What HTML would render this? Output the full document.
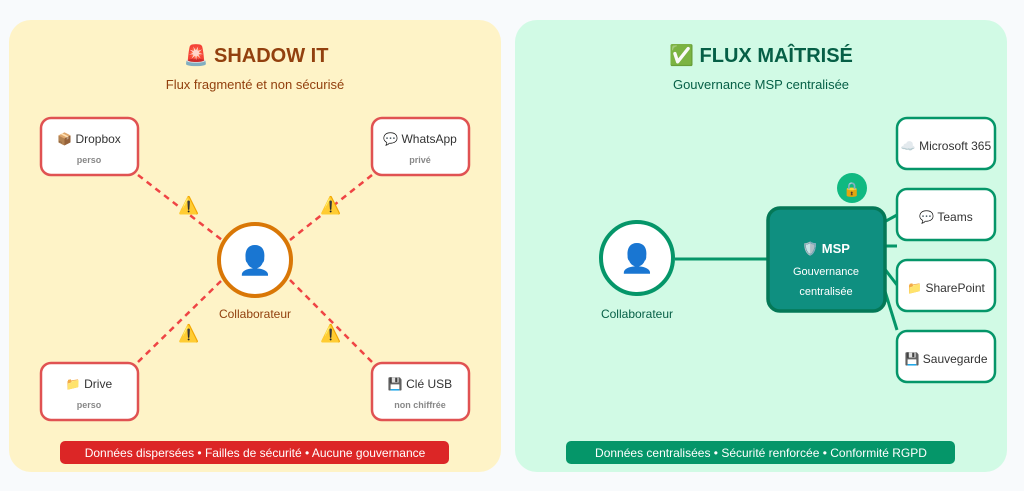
<!DOCTYPE html>
<html><head><meta charset="utf-8"><style>
html,body{margin:0;padding:0;background:#f8fafc;width:1024px;height:491px;overflow:hidden;font-family:"Liberation Sans","DejaVu Sans",sans-serif}
</style></head><body>
<svg width="1024" height="491" xmlns="http://www.w3.org/2000/svg" font-family="Liberation Sans, DejaVu Sans, sans-serif">
<rect x="0" y="0" width="1024" height="491" fill="#f8fafc"/>
<rect x="9" y="20" width="492" height="452" rx="22" fill="#fef3c7"/>
<rect x="515" y="20" width="492" height="452" rx="22" fill="#d1fae5"/>

<!-- LEFT -->
<text x="256" y="62" text-anchor="middle" font-size="20" font-weight="bold" fill="#92400e">🚨 SHADOW IT</text>
<text x="255" y="89" text-anchor="middle" font-size="13" fill="#92400e">Flux fragmenté et non sécurisé</text>
<g stroke="#ef4444" stroke-width="2.5" stroke-dasharray="6,5" fill="none">
<line x1="138" y1="175" x2="222" y2="240"/>
<line x1="372" y1="175" x2="290" y2="240"/>
<line x1="138" y1="362" x2="222" y2="280"/>
<line x1="372" y1="362" x2="290" y2="280"/>
</g>
<g font-size="17" text-anchor="middle">
<text x="189" y="211">⚠️</text><text x="331" y="211">⚠️</text>
<text x="189" y="339">⚠️</text><text x="331" y="339">⚠️</text>
</g>
<g fill="#fff" stroke="#e05252" stroke-width="2.5">
<rect x="41" y="118" width="97" height="57" rx="10"/>
<rect x="372" y="118" width="97" height="57" rx="10"/>
<rect x="41" y="363" width="97" height="57" rx="10"/>
<rect x="372" y="363" width="97" height="57" rx="10"/>
</g>
<g font-size="12" fill="#333" text-anchor="middle">
<text x="89" y="143">📦 Dropbox</text>
<text x="420" y="143">💬 WhatsApp</text>
<text x="89" y="388">📁 Drive</text>
<text x="420" y="388">💾 Clé USB</text>
</g>
<g font-size="9" fill="#888" text-anchor="middle" font-weight="bold">
<text x="89" y="163">perso</text>
<text x="420" y="163">privé</text>
<text x="89" y="408">perso</text>
<text x="420" y="408">non chiffrée</text>
</g>
<circle cx="255" cy="260" r="36" fill="#fff" stroke="#d97706" stroke-width="4"/>
<text x="255" y="270" text-anchor="middle" font-size="28">👤</text>
<text x="255" y="318" text-anchor="middle" font-size="12" fill="#92400e">Collaborateur</text>
<rect x="60" y="441" width="389" height="23" rx="5" fill="#dc2626"/>
<text x="255" y="457" text-anchor="middle" font-size="12" fill="#fff">Données dispersées • Failles de sécurité • Aucune gouvernance</text>

<!-- RIGHT -->
<text x="761" y="62" text-anchor="middle" font-size="20" font-weight="bold" fill="#065f46">✅ FLUX MAÎTRISÉ</text>
<text x="761" y="89" text-anchor="middle" font-size="13" fill="#065f46">Gouvernance MSP centralisée</text>
<g stroke="#059669" stroke-width="3" fill="none">
<line x1="675" y1="259" x2="768" y2="259"/>
<line x1="884" y1="222" x2="897" y2="215"/>
<line x1="884" y1="246" x2="897" y2="246"/>
<line x1="884" y1="268" x2="897" y2="285"/>
<line x1="884" y1="288" x2="897" y2="330"/>
</g>
<circle cx="637" cy="258" r="36" fill="#fff" stroke="#059669" stroke-width="4"/>
<text x="637" y="268" text-anchor="middle" font-size="28">👤</text>
<text x="637" y="318" text-anchor="middle" font-size="12" fill="#065f46">Collaborateur</text>
<rect x="768" y="208" width="117" height="103" rx="12" fill="#0f8f80" stroke="#047857" stroke-width="3.5"/>
<text x="826" y="253" text-anchor="middle" font-size="13" font-weight="bold" fill="#fff">🛡️ MSP</text>
<text x="826" y="275" text-anchor="middle" font-size="11" fill="#fff">Gouvernance</text>
<text x="826" y="295" text-anchor="middle" font-size="11" fill="#fff">centralisée</text>
<circle cx="852" cy="188" r="15" fill="#10b981"/>
<text x="852" y="194" text-anchor="middle" font-size="14">🔒</text>
<g fill="#fff" stroke="#059669" stroke-width="2.5">
<rect x="897" y="118" width="98" height="51" rx="10"/>
<rect x="897" y="189" width="98" height="51" rx="10"/>
<rect x="897" y="260" width="98" height="51" rx="10"/>
<rect x="897" y="331" width="98" height="51" rx="10"/>
</g>
<g font-size="12" fill="#333" text-anchor="middle">
<text x="946" y="150">☁️ Microsoft 365</text>
<text x="946" y="221">💬 Teams</text>
<text x="946" y="292">📁 SharePoint</text>
<text x="946" y="363">💾 Sauvegarde</text>
</g>
<rect x="566" y="441" width="389" height="23" rx="5" fill="#059669"/>
<text x="761" y="457" text-anchor="middle" font-size="12" fill="#fff">Données centralisées • Sécurité renforcée • Conformité RGPD</text>
</svg>
</body></html>
